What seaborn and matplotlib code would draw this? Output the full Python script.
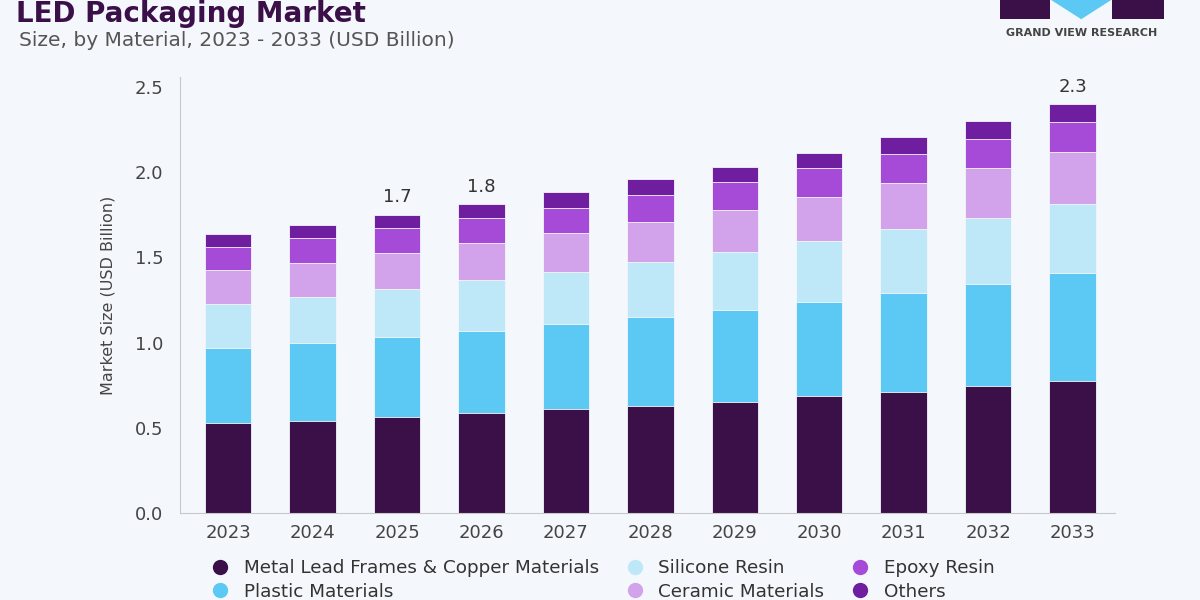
import matplotlib
matplotlib.use("Agg")
import matplotlib.pyplot as plt
from matplotlib.patches import Rectangle, Polygon
from matplotlib.lines import Line2D
import pandas as pd
import seaborn as sns

# values (USD Billion)
years = ["2023", "2024", "2025", "2026", "2027", "2028", "2029", "2030", "2031", "2032", "2033"]
metal = [0.526, 0.538, 0.561, 0.585, 0.608, 0.626, 0.649, 0.684, 0.708, 0.743, 0.772]
plastic = [0.445, 0.462, 0.474, 0.485, 0.503, 0.526, 0.544, 0.556, 0.584, 0.602, 0.637]
silicone = [0.257, 0.269, 0.281, 0.298, 0.304, 0.322, 0.339, 0.356, 0.375, 0.386, 0.404]
ceramic = [0.199, 0.199, 0.210, 0.217, 0.228, 0.234, 0.246, 0.258, 0.269, 0.292, 0.304]
epoxy = [0.134, 0.146, 0.147, 0.146, 0.146, 0.157, 0.164, 0.169, 0.169, 0.170, 0.175]
others = [0.076, 0.076, 0.076, 0.082, 0.094, 0.094, 0.087, 0.088, 0.100, 0.105, 0.106]

segments = ["Metal Lead Frames & Copper Materials", "Plastic Materials", "Silicone Resin",
            "Ceramic Materials", "Epoxy Resin", "Others"]
colors = ["#3B0F48", "#5BC9F3", "#BEE8F8", "#D2A3EA", "#A64BD8", "#6E1E9E"]

labelled_years = ["2025", "2026", "2033"]
bar_labels = ["1.7", "1.8", "2.3"]

df = pd.DataFrame({"Year": years, segments[0]: metal, segments[1]: plastic,
                   segments[2]: silicone, segments[3]: ceramic,
                   segments[4]: epoxy, segments[5]: others})
cum = df[segments].cumsum(axis=1)

bg = "#F4F7FB"
sns.set_style("white")
fig = plt.figure(figsize=(12, 6), dpi=100, facecolor=bg)
ax = fig.add_axes([0.15, 0.145, 0.779, 0.727])
ax.set_facecolor(bg)

# draw cumulative totals top layer first so lower layers overlap
for i in range(len(segments) - 1, -1, -1):
    sns.barplot(x=df["Year"], y=cum[segments[i]], order=years, color=colors[i],
                width=0.55, saturation=1, edgecolor=bg, linewidth=0.6, ax=ax)

ax.set_xlim(-0.57, 10.5)
ax.set_ylim(0, 2.56)
ax.set_yticks([0, 0.5, 1.0, 1.5, 2.0, 2.5])
ax.set_yticklabels(["0.0", "0.5", "1.0", "1.5", "2.0", "2.5"])
ax.set_xlabel("")
ax.set_ylabel("Market Size (USD Billion)", fontsize=11.5, color="#444444", labelpad=14)
ax.tick_params(axis="y", length=6, color="#BBBBBB", labelsize=13, labelcolor="#444444", pad=6)
ax.tick_params(axis="x", length=0, labelsize=13, labelcolor="#444444", pad=8)
for s in ["top", "right"]:
    ax.spines[s].set_visible(False)
ax.spines["left"].set_color("#C8C8C8")
ax.spines["bottom"].set_color("#C8C8C8")

totals = cum[segments[-1]].tolist()
for yr, lab in zip(labelled_years, bar_labels):
    k = years.index(yr)
    ax.text(k, totals[k] + 0.05, lab, ha="center", va="bottom", fontsize=13, color="#333333")

# title block
fig.text(0.013, 0.963, "LED Packaging Market", fontsize=20, fontweight="bold",
         color="#3B0F48", ha="left", va="baseline")
fig.text(0.016, 0.932, "Size, by Material, 2023 - 2033 (USD Billion)", fontsize=14.5,
         color="#555555", ha="left", va="center")

# logo
fig.patches.append(Rectangle((0.833, 0.968), 0.042, 0.04, transform=fig.transFigure,
                             facecolor="#3B0F48", edgecolor="none"))
fig.patches.append(Rectangle((0.927, 0.968), 0.043, 0.04, transform=fig.transFigure,
                             facecolor="#3B0F48", edgecolor="none"))
fig.patches.append(Polygon([(0.876, 1.0), (0.926, 1.0), (0.901, 0.968)], closed=True,
                           transform=fig.transFigure, facecolor="#5BC9F3", edgecolor="none"))
fig.text(0.901, 0.945, "GRAND VIEW RESEARCH", fontsize=8, fontweight="bold",
         color="#444444", ha="center", va="center")

handles = [Line2D([0], [0], marker="o", linestyle="", markersize=10,
                  markerfacecolor=c, markeredgecolor=c) for c in colors]
fig.legend(handles, segments, loc="upper left", bbox_to_anchor=(0.168, 0.068),
           ncol=3, frameon=False, fontsize=13.2, labelcolor="#333333",
           handletextpad=0.3, columnspacing=0.95, labelspacing=0.3, borderpad=0,
           borderaxespad=0)

fig.savefig("out.png", dpi=100, facecolor=bg)
